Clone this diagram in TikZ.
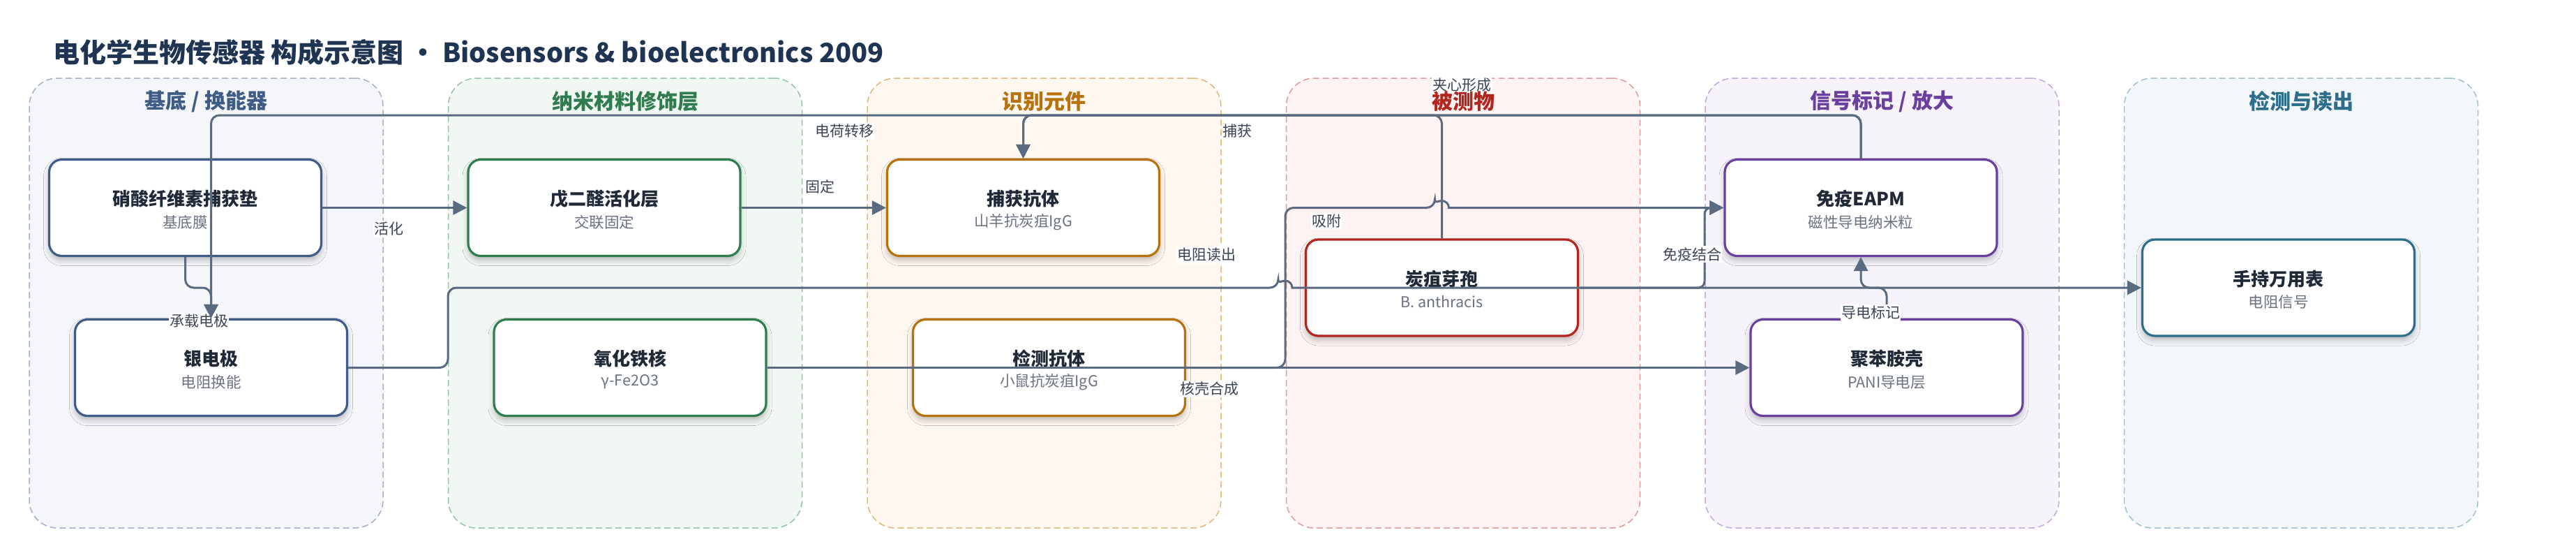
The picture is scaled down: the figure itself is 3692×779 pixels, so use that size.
\documentclass[tikz,border=0pt]{standalone}
\usepackage{fontspec}
\setmainfont{Noto Sans CJK SC}
\usetikzlibrary{arrows.meta,shadows.blur}

\definecolor{edgec}{HTML}{5A6A80}
\definecolor{lblc}{HTML}{3B4454}
\definecolor{titlec}{HTML}{1F3352}
\definecolor{subc}{HTML}{6B7280}
\definecolor{nodetc}{HTML}{1F2937}
\definecolor{laneAf}{HTML}{F4F6FA}\definecolor{laneAd}{HTML}{A3B1C6}\definecolor{laneAt}{HTML}{3E5C85}
\definecolor{laneBf}{HTML}{F1F8F3}\definecolor{laneBd}{HTML}{93C4A3}\definecolor{laneBt}{HTML}{2F7D4E}
\definecolor{laneCf}{HTML}{FEF8F0}\definecolor{laneCd}{HTML}{E2B77A}\definecolor{laneCt}{HTML}{B8720C}
\definecolor{laneDf}{HTML}{FDF3F2}\definecolor{laneDd}{HTML}{E39A9A}\definecolor{laneDt}{HTML}{B3261E}
\definecolor{laneEf}{HTML}{F6F3FB}\definecolor{laneEd}{HTML}{C3A8DE}\definecolor{laneEt}{HTML}{6B3FA0}
\definecolor{laneFf}{HTML}{F3F7F9}\definecolor{laneFd}{HTML}{9EC1CD}\definecolor{laneFt}{HTML}{2E6E8C}

\tikzset{
  lanebox/.style={line width=1.5pt, dash pattern=on 9pt off 5pt, rounded corners=40pt,
    minimum width=507pt, minimum height=644pt, inner sep=0pt},
  lanetitle/.style={font=\fontsize{30}{34}\selectfont\bfseries, inner sep=0pt},
  blockbox/.style={fill=white, line width=3.2pt, rounded corners=18pt,
    minimum width=390pt, minimum height=138pt, inner sep=0pt,
    blur shadow={shadow xshift=0pt, shadow yshift=-6pt, shadow blur radius=8pt, shadow opacity=25}},
  ntitle/.style={font=\fontsize{26}{30}\selectfont\bfseries, text=nodetc, inner sep=0pt},
  nsub/.style={font=\fontsize{21.5}{25}\selectfont, text=subc, inner sep=0pt},
  conn/.style={draw=edgec, line width=3pt, rounded corners=12pt,
    -{Triangle[length=20pt,width=20pt]}},
  elabel/.style={fill=white, text=lblc, font=\fontsize{21}{24}\selectfont, inner xsep=1pt, inner ysep=2pt},
}

\newcommand\mklane[5]{%
  \node[lanebox, draw=#4, fill=#3] (#1) at (#2+253.5,434) {};}
\newcommand\mklanetitle[4]{%
  \node[lanetitle, text=#3] (#1-t) at (#2+253.5,145) {#4};}
\newcommand\mkblock[6]{%
  \node[blockbox, draw=#4] (#1) at (#2,#3) {};
  \node[ntitle] (#1-t) at ([yshift=12.5pt]#1.center) {#5};
  \node[nsub] (#1-s) at ([yshift=-20.5pt]#1.center) {#6};}

\begin{document}
\begin{tikzpicture}[x=1pt,y=-1pt]
\useasboundingbox (0,0) rectangle (3692,779);
\fill[white] (0,0) rectangle (3692,779);

\node[anchor=west, font=\fontsize{38}{44}\selectfont\bfseries, text=titlec, inner sep=0pt] (title) at (76,75)
  {电化学生物传感器 构成示意图 • Biosensors \& bioelectronics 2009};

% lanes
\mklane{lnA}{42}{laneAf}{laneAd}{laneAt}
\mklane{lnB}{642.5}{laneBf}{laneBd}{laneBt}
\mklane{lnC}{1243}{laneCf}{laneCd}{laneCt}
\mklane{lnD}{1843.5}{laneDf}{laneDd}{laneDt}
\mklane{lnE}{2444}{laneEf}{laneEd}{laneEt}
\mklane{lnF}{3044.5}{laneFf}{laneFd}{laneFt}

% blocks
\mkblock{capmat}{265.5}{297.5}{laneAt}{硝酸纤维素捕获垫}{基底膜}
\mkblock{ag}{302.5}{526.5}{laneAt}{银电极}{电阻换能}
\mkblock{glut}{866}{297.5}{laneBt}{戊二醛活化层}{交联固定}
\mkblock{fe}{903}{526.5}{laneBt}{氧化铁核}{γ-Fe2O3}
\mkblock{capab}{1466.5}{297.5}{laneCt}{捕获抗体}{山羊抗炭疽IgG}
\mkblock{detab}{1503.5}{526.5}{laneCt}{检测抗体}{小鼠抗炭疽IgG}
\mkblock{spore}{2066.5}{412}{laneDt}{炭疽芽孢}{B. anthracis}
\mkblock{eapm}{2667}{297.5}{laneEt}{免疫EAPM}{磁性导电纳米粒}
\mkblock{pani}{2704}{526.5}{laneEt}{聚苯胺壳}{PANI导电层}
\mkblock{meter}{3265.5}{412}{laneFt}{手持万用表}{电阻信号}

% connectors
\draw[conn] (capmat.east) -- (glut.west);
\node[elabel] (l-act) at (557,328) {活化};

\draw[conn] (glut.east) -- (capab.west);
\node[elabel] (l-fix) at (1175,267) {固定};

\draw[conn] (capmat.south) -- (265.5,412) -- (302.5,412) -- (ag.north);
\node[elabel] (l-carry) at (285,460) {承载电极};

\draw[conn] (spore.north) -- (2066.5,165) -- (1466.5,165) -- (capab.north);
\node[elabel] (l-cap) at (1773,188) {捕获};

\draw[conn] (eapm.north) -- (2667,165) -- (1466.5,165) -- (capab.north);
\node[elabel] (l-sand) at (2095,122) {夹心形成};

\draw[conn] (eapm.north) -- (2667,165) -- (302.5,165) -- (ag.north);
\node[elabel] (l-charge) at (1210,188) {电荷转移};

\draw[conn] (detab.east) -- (1842,526.5) -- (1842,297.5) -- (2056.5,297.5)
  [sharp corners] arc[start angle=180, end angle=360, radius=10] -- (eapm.west);
\node[elabel] (l-ads) at (1901,317) {吸附};

\draw[conn, rounded corners=9pt] (spore.east) -- (2443,412) -- (2443,297.5) -- (eapm.west);
\node[elabel] (l-imm) at (2425,364) {免疫结合};

\draw[conn] (ag.east) -- (642,526.5) -- (642,412) -- (1832,412)
  [sharp corners] arc[start angle=180, end angle=360, radius=10] -- (meter.west);
\node[elabel] (l-read) at (1729,365) {电阻读出};

\draw[conn] (fe.east) -- (pani.west);
\node[elabel] (l-core) at (1733,557) {核壳合成};

\draw[conn] (pani.north) -- (2704,412) -- (2667,412) -- (eapm.south);
\node[elabel] (l-label) at (2681,448) {导电标记};

% lane titles
\mklanetitle{lnA}{42}{laneAt}{基底 / 换能器}
\mklanetitle{lnB}{642.5}{laneBt}{纳米材料修饰层}
\mklanetitle{lnC}{1243}{laneCt}{识别元件}
\mklanetitle{lnD}{1843.5}{laneDt}{被测物}
\mklanetitle{lnE}{2444}{laneEt}{信号标记 / 放大}
\mklanetitle{lnF}{3044.5}{laneFt}{检测与读出}
\end{tikzpicture}
\end{document}
